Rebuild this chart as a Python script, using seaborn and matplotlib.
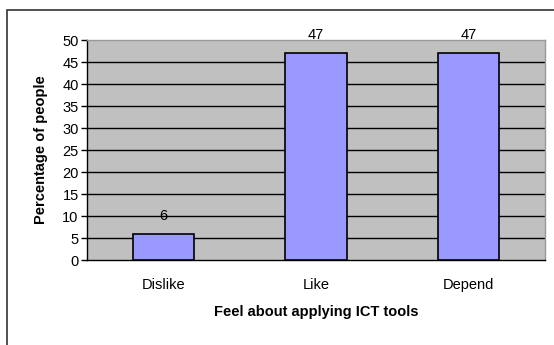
import matplotlib
matplotlib.use("Agg")
import matplotlib.pyplot as plt
import seaborn as sns
import pandas as pd
from matplotlib.patches import Rectangle

categories = ["Dislike", "Like", "Depend"]
values = [6, 47, 47]
yticks = [0, 5, 10, 15, 20, 25, 30, 35, 40, 45, 50]

sns.set_style("white")
plt.rcParams["font.family"] = ["Liberation Sans", "DejaVu Sans"]
plt.rcParams["text.color"] = "black"
plt.rcParams["axes.labelcolor"] = "black"
plt.rcParams["xtick.color"] = "black"
plt.rcParams["ytick.color"] = "black"

FS = 10.5
W, H = 554, 345
fig = plt.figure(figsize=(W / 100, H / 100), dpi=100)
fig.patch.set_facecolor("white")

# outer chart frame (cropped on right and bottom)
fig.add_artist(Rectangle((7 / W, -0.1), 1.5, (H - 10) / H + 0.1, transform=fig.transFigure,
                         fill=False, edgecolor="#333333", linewidth=1.2))

left, right, top, bottom = 87, 545, 40, 260
ax = fig.add_axes([left / W, 1 - bottom / H, (right - left) / W, (bottom - top) / H])
ax.set_facecolor("#C0C0C0")

df = pd.DataFrame({"cat": categories, "val": values})
sns.barplot(data=df, x="cat", y="val", ax=ax, color="#9999FF", saturation=1,
            width=0.4, edgecolor="black", linewidth=1.2, zorder=3)

ax.set_ylim(0, 50)
ax.set_xlim(-0.5, 2.5)
ax.set_yticks(yticks)
ax.set_yticklabels([str(t) for t in yticks], fontsize=FS)
for t in yticks[1:-1]:
    ax.axhline(t, color="black", linewidth=1.0, zorder=1)

ax.set_xticks([-0.5, 0.5, 1.5, 2.5], minor=False)
ax.set_xticklabels([])
ax.set_xticks([0, 1, 2], minor=True)
ax.set_xticklabels(categories, minor=True, fontsize=FS)
ax.tick_params(axis="x", which="minor", length=0, pad=13)
ax.tick_params(axis="x", which="major", length=4, width=1, color="black", direction="out")
ax.tick_params(axis="y", length=4, width=1, color="black", direction="out", pad=2, left=True)

for s in ["top", "right"]:
    ax.spines[s].set_color("#999999")
    ax.spines[s].set_linewidth(1.0)
for s in ["left", "bottom"]:
    ax.spines[s].set_color("black")
    ax.spines[s].set_linewidth(1.0)

for i, v in enumerate(values):
    ax.annotate(str(v), (i, v), xytext=(0, 13), textcoords="offset points",
                ha="center", va="center", fontsize=FS)

ax.set_xlabel("Feel about applying ICT tools", fontsize=FS, fontweight="bold", labelpad=9)
ax.set_ylabel("Percentage of people", fontsize=FS, fontweight="bold", labelpad=10)

fig.savefig("out.png", dpi=100)
